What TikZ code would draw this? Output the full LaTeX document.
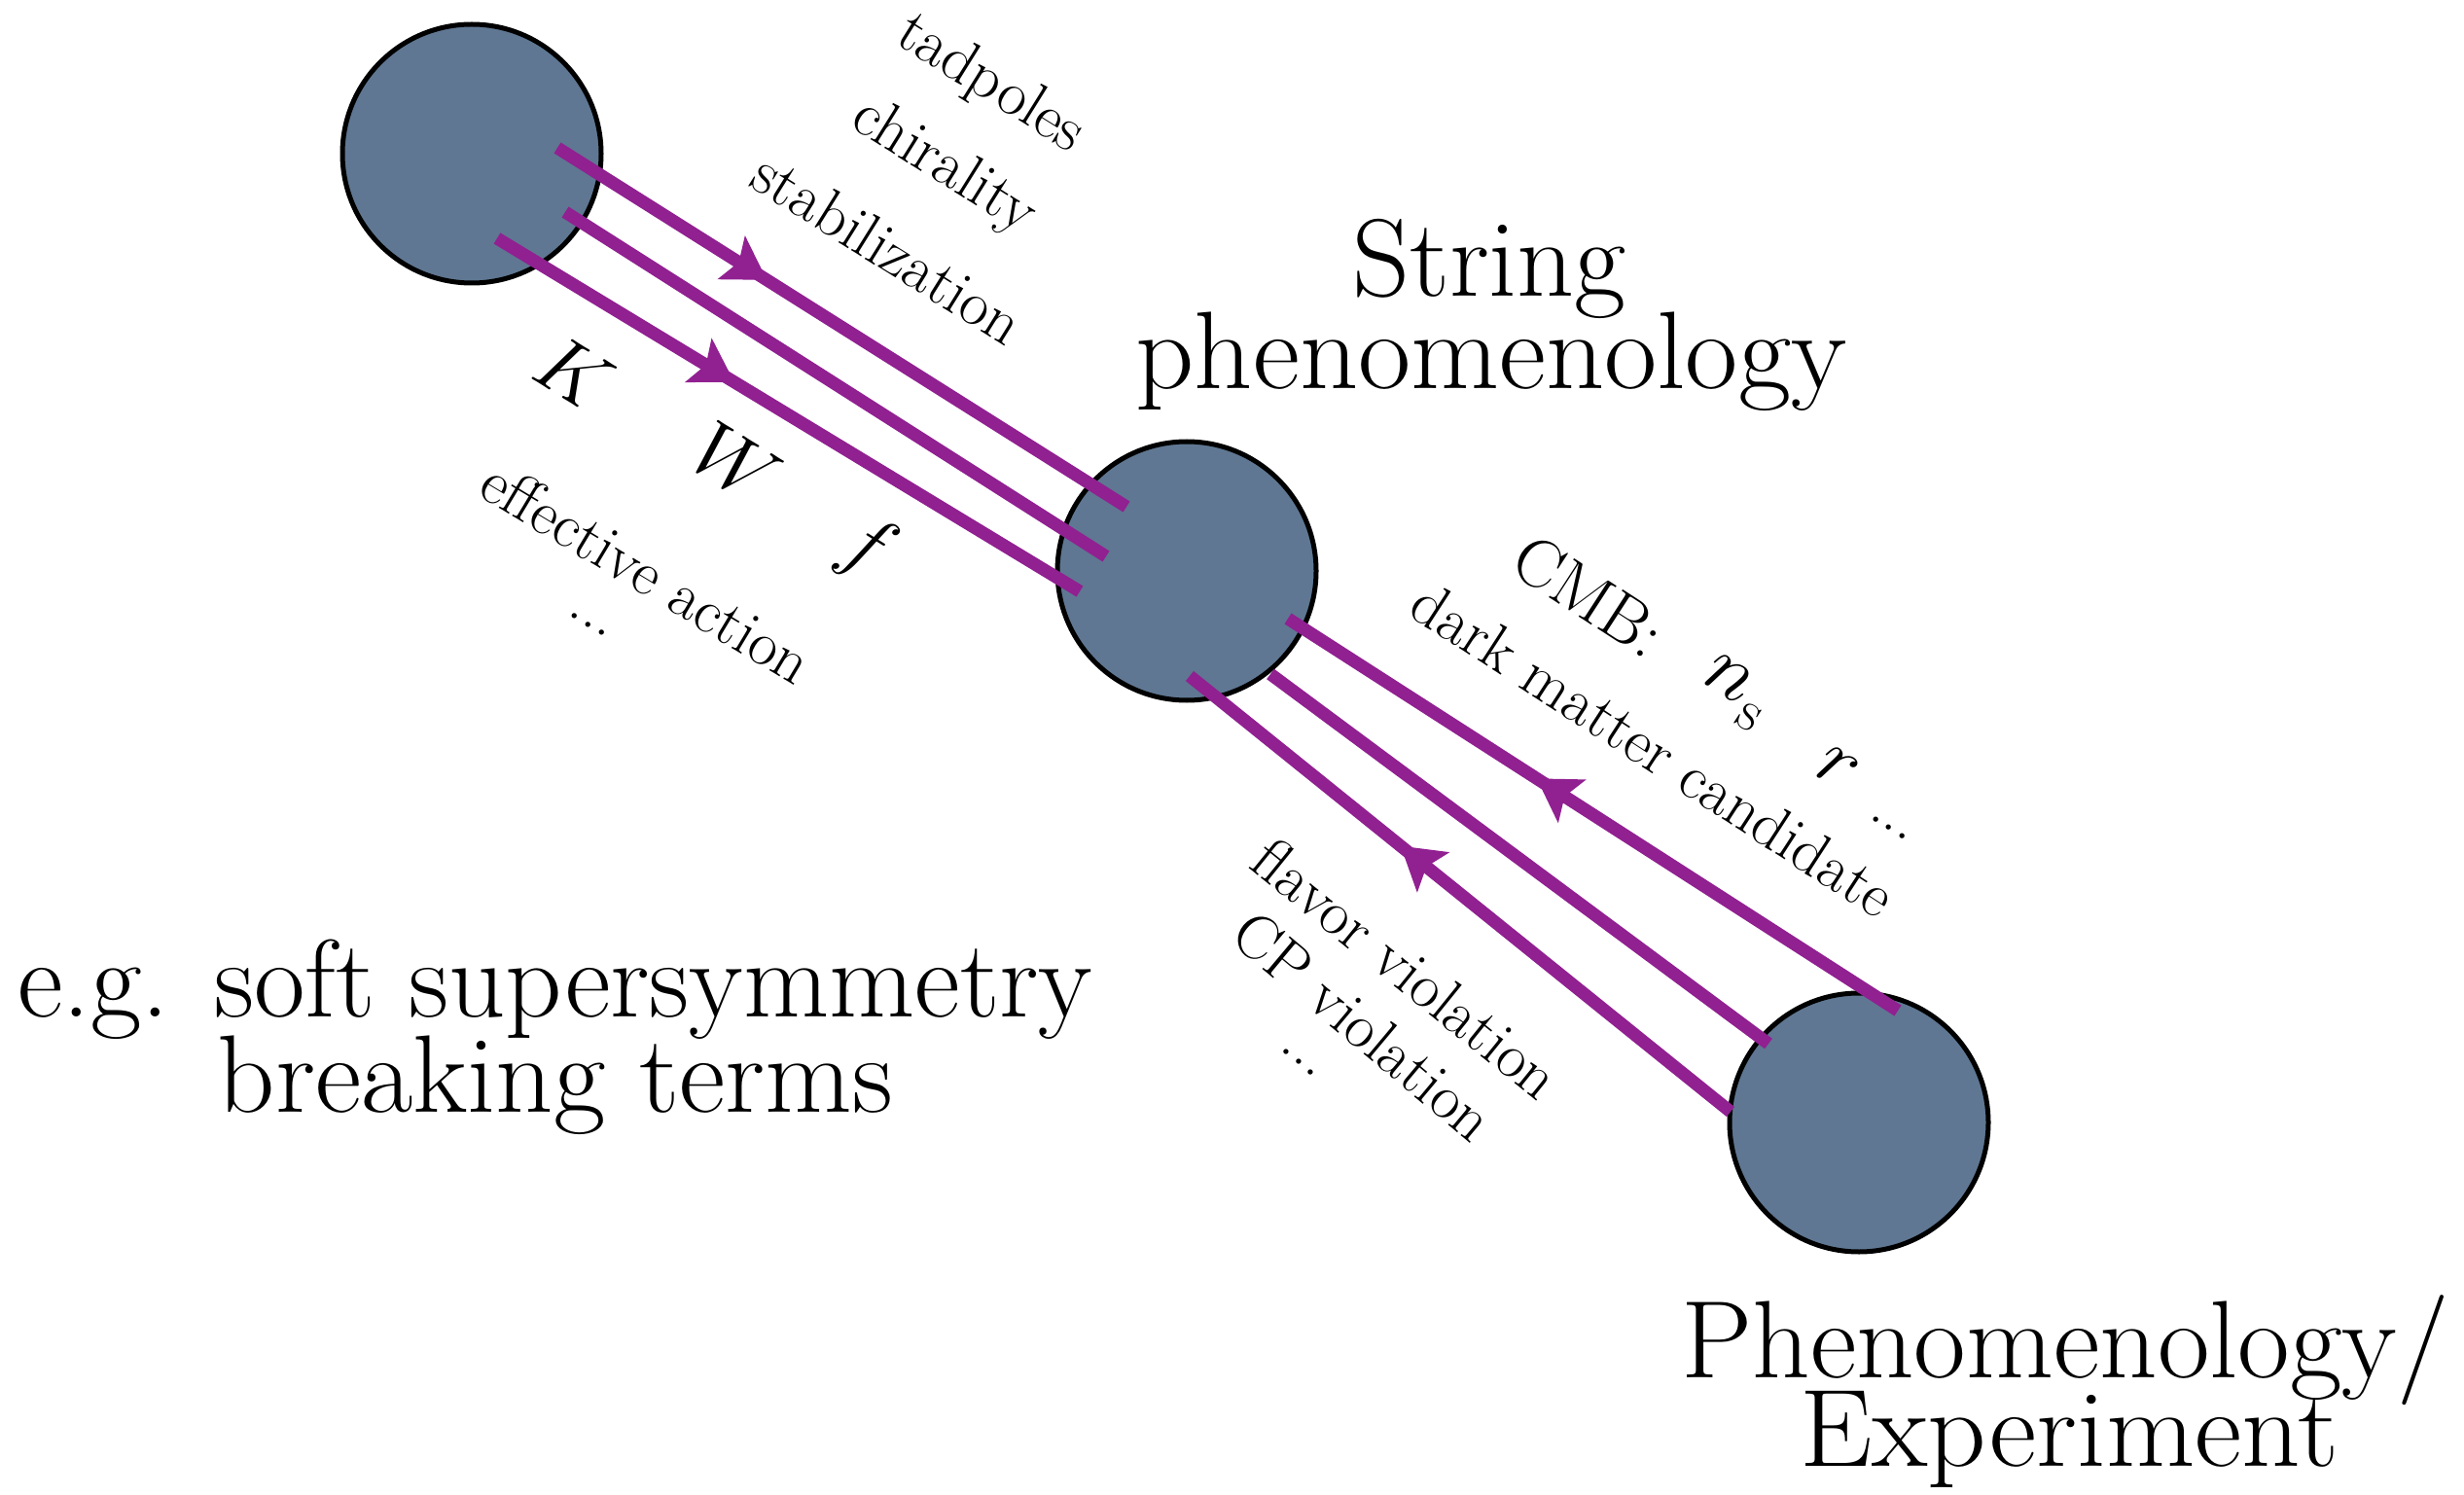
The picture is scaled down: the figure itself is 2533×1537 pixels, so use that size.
\documentclass[tikz,border=0pt]{standalone}
\usepackage{fontspec}
\usepackage{graphicx}
\usetikzlibrary{arrows.meta,decorations.markings}
\definecolor{ballfill}{RGB}{95,119,146}
\definecolor{linepurple}{RGB}{145,32,145}
\begin{document}
\begin{tikzpicture}[x=0.3pt,y=-0.3pt,
  ball/.style={circle,draw=black,line width=1.5pt,fill=ballfill,minimum size=79.8pt,inner sep=0pt},
  flow/.style={draw=linepurple,line width=3.9pt},
  arrowat/.style={postaction={decorate},decoration={markings,mark=at position #1 with {\arrow{Stealth[length=13pt,width=16pt,inset=2.8pt,line width=0pt,linepurple]}}}},
  biglabel/.style={anchor=base,inner sep=0pt,font=\fontsize{34}{40}\selectfont},
  smalllabel/.style={inner sep=0pt,font=\fontsize{19.3}{22}\selectfont},
  mathlabel/.style={inner sep=0pt,font=\fontsize{24}{28}\selectfont},
  obslabel/.style={inner sep=0pt,font=\fontsize{21}{24}\selectfont},
  obsmath/.style={inner sep=0pt,font=\fontsize{23}{26}\selectfont},
]
\useasboundingbox (0,0) rectangle (2533,1537);

% balls
\node[ball] (c1) at (485,158) {};
\node[ball] (c2) at (1220,587) {};
\node[ball] (c3) at (1911,1154) {};

% line end points
\coordinate (A1) at (573,152);  \coordinate (A2) at (1158,521);
\coordinate (B1) at (581,218);  \coordinate (B2) at (1137,572);
\coordinate (C1) at (511,245);  \coordinate (C2) at (1110,608);
\coordinate (D1) at (1951,1039); \coordinate (D2) at (1324,636);
\coordinate (E1) at (1818,1073); \coordinate (E2) at (1306,693);
\coordinate (F1) at (1779,1143); \coordinate (F2) at (1223,695);

\draw[flow,arrowat=0.368] (A1) -- (A2);
\draw[flow] (B1) -- (B2);
\draw[flow,arrowat=0.407] (C1) -- (C2);
\draw[flow,arrowat=0.592] (D1) -- (D2);
\draw[flow] (E1) -- (E2);
\draw[flow,arrowat=0.61] (F1) -- (F2);

% upper-left labels
\node[smalllabel,rotate=-32] (tad) at (1018,87) {tadpoles};
\node[smalllabel,rotate=-32] (chi) at (970,172) {chirality};
\node[smalllabel,rotate=-32] (stab) at (913,255) {stabilization};
\node[mathlabel,rotate=-32] (K) at (590,383) {$K$};
\node[mathlabel,rotate=-32] (W) at (757,477) {$W$};
\node[mathlabel,rotate=-32] (f) at (890,565) {$f$};
\node[smalllabel,rotate=-31] (eff) at (665,588) {effective action};
\node[smalllabel,rotate=-31] (dotsA) at (605,642) {...};

% right labels
\node[obslabel,rotate=-33] (cmb) at (1634,613) {CMB:};
\node[obsmath,rotate=-33] (ns) at (1783,712) {$n$\kern1pt\raisebox{-5.5pt}{\fontsize{18}{20}\selectfont s}};
\node[obsmath,rotate=-33] (r) at (1888,790) {$r$};
\node[smalllabel,rotate=-33] (dotsB) at (1942,851) {...};
\node[smalllabel,rotate=-33] (dm) at (1700,770) {dark matter candidate};
\node[smalllabel,rotate=-39] (flav) at (1446,995) {flavor violation};
\node[smalllabel,rotate=-40] (cp) at (1402,1055) {CP violation};
\node[smalllabel,rotate=-39] (dotsC) at (1335,1092) {...};

% big labels
\node[biglabel] (str1) at (1531,305) {\scalebox{1.018}[1]{String}};
\node[biglabel] (str2) at (1533,400) {\scalebox{1.04}[1]{phenomenology}};
\node[biglabel] (eg1) at (571,1045) {\scalebox{1.008}[1]{e.g. soft supersymmetry}};
\node[biglabel] (eg2) at (571,1143) {\scalebox{1.024}[1]{breaking terms}};
\node[biglabel] (ph1) at (2123,1416) {\scalebox{1.028}[1]{Phenomenology/}};
\node[biglabel] (ph2) at (2127,1507) {\scalebox{1.045}[1]{Experiment}};
\end{tikzpicture}
\end{document}
